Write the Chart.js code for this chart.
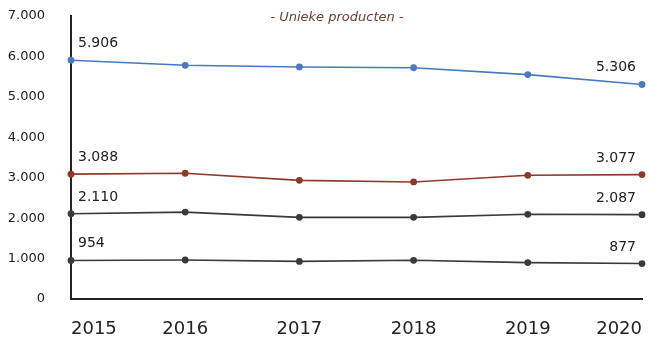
<!DOCTYPE html>
<html>
<head>
<meta charset="utf-8">
<script src="https://cdn.jsdelivr.net/npm/chart.js@4"></script>
<style>
  html, body { margin: 0; padding: 0; background: #fff; }
  #wrap { width: 649px; height: 343px; }
</style>
</head>
<body>
<div id="wrap"><canvas id="productChart" width="649" height="343"></canvas></div>
<script>
const years = ["2015", "2016", "2017", "2018", "2019", "2020"];
const blueValues = [5906, 5780, 5740, 5720, 5550, 5306];
const redValues = [3088, 3110, 2935, 2895, 3060, 3077];
const darkValues = [2110, 2150, 2020, 2020, 2095, 2087];
const lowValues = [954, 965, 930, 957, 900, 877];
const yTicks = [0, 1000, 2000, 3000, 4000, 5000, 6000, 7000];
const titleText = "- Unieke producten -";

const fontName = "'DejaVu Sans', sans-serif";

function formatNL(v) {
    return String(Math.round(v)).replace(/\B(?=(\d{3})+(?!\d))/g, ".");
}

// first and last value above the line
const endLabels = {
    id: "endLabels",
    afterDatasetsDraw(chart) {
        const ctx = chart.ctx;
        ctx.save();
        ctx.font = "14px " + fontName;
        ctx.fillStyle = "#222";
        ctx.textBaseline = "alphabetic";
        chart.data.datasets.forEach((ds, i) => {
            const pts = chart.getDatasetMeta(i).data;
            const first = pts[0];
            const last = pts[pts.length - 1];
            ctx.textAlign = "left";
            ctx.fillText(formatNL(ds.data[0]), first.x + 7, first.y - 13);
            ctx.textAlign = "right";
            ctx.fillText(formatNL(ds.data[ds.data.length - 1]), last.x - 6, last.y - 13);
        });
        ctx.restore();
    }
};

const topTitle = {
    id: "topTitle",
    afterDraw(chart) {
        const ctx = chart.ctx;
        ctx.save();
        ctx.font = "italic 13px " + fontName;
        ctx.fillStyle = "#6e3b30";
        ctx.textAlign = "center";
        ctx.textBaseline = "middle";
        ctx.fillText(titleText, 337, 18);
        ctx.restore();
    }
};

function lineSet(values, color) {
    return {
        data: values,
        borderColor: color,
        backgroundColor: color,
        borderWidth: 1.6,
        pointRadius: 2.6,
        pointHoverRadius: 2.6,
        tension: 0,
        fill: false
    };
}

new Chart(document.getElementById("productChart").getContext("2d"), {
    type: "line",
    data: {
        labels: years,
        datasets: [
            lineSet(blueValues, "#4a78c2"),
            lineSet(redValues, "#8c3a2b"),
            lineSet(darkValues, "#3a3a3a"),
            lineSet(lowValues, "#3a3a3a")
        ]
    },
    options: {
        responsive: false,
        animation: false,
        layout: { autoPadding: false, padding: { top: 16, right: 7, bottom: 0, left: 0 } },
        plugins: {
            legend: { display: false },
            tooltip: { enabled: false }
        },
        scales: {
            x: {
                offset: false,
                grid: { display: false },
                border: { display: true, color: "#222", width: 2 },
                ticks: {
                    align: "inner",
                    color: "#222",
                    font: { family: fontName, size: 18 },
                    padding: 12,
                    maxRotation: 0
                },
                afterFit(scale) { scale.height = 44; scale.paddingLeft = 0; scale.paddingRight = 0; }
            },
            y: {
                min: 0,
                max: 7000,
                grid: { display: false },
                border: { display: true, color: "#222", width: 2 },
                afterBuildTicks(scale) {
                    scale.ticks = yTicks.map(v => ({ value: v }));
                },
                ticks: {
                    color: "#222",
                    font: { family: fontName, size: 13 },
                    padding: 18,
                    callback: v => formatNL(v)
                },
                afterFit(scale) { scale.width = 71; scale.paddingTop = 0; scale.paddingBottom = 0; }
            }
        }
    },
    plugins: [endLabels, topTitle]
});
</script>
</body>
</html>
